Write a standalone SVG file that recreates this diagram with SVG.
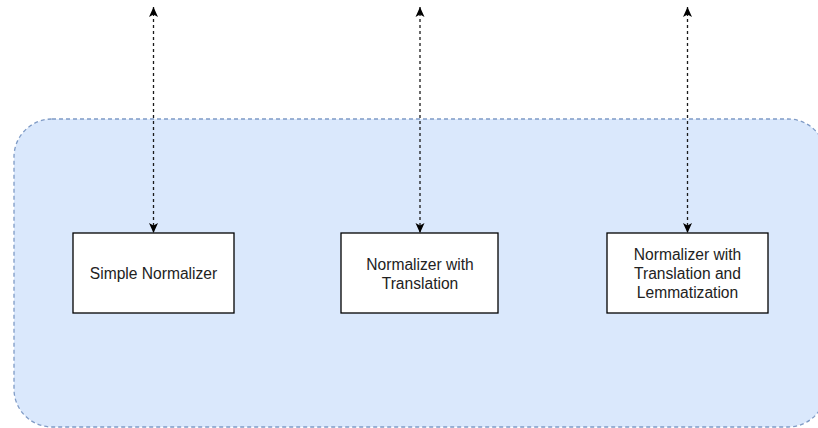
<svg xmlns="http://www.w3.org/2000/svg" width="818" height="428" viewBox="0 0 818 428">
  <defs>
    <style>
      .container { fill: #dae8fc; stroke: #7f9bc6; stroke-width: 1.3; stroke-dasharray: 4 3; }
      .box { fill: #ffffff; stroke: #000000; stroke-width: 1.3; }
      .label { font-family: "Liberation Sans", Arial, Helvetica, sans-serif; font-size: 15.6px; fill: #222222; text-anchor: middle; }
      .link { fill: none; stroke: #1a1a1a; stroke-width: 1.3; stroke-dasharray: 3 3; }
    </style>
    <marker id="arrow" viewBox="0 0 10 10" refX="10" refY="5" markerWidth="10" markerHeight="10" markerUnits="userSpaceOnUse" orient="auto-start-reverse">
      <path d="M0,0.5 L10,5 L0,9.5 L2.5,5 Z" fill="#000000"/>
    </marker>
  </defs>

  <!-- background group container -->
  <g id="container">
    <rect class="container" x="14" y="119" width="812" height="308" rx="38" ry="38"/>
  </g>

  <!-- bidirectional dotted links from the top edge down to each normalizer -->
  <g id="connectors">
    <line class="link" x1="153.5" y1="7" x2="153.5" y2="233" marker-start="url(#arrow)" marker-end="url(#arrow)"/>
    <line class="link" x1="420" y1="7" x2="420" y2="233" marker-start="url(#arrow)" marker-end="url(#arrow)"/>
    <line class="link" x1="687.5" y1="7" x2="687.5" y2="233" marker-start="url(#arrow)" marker-end="url(#arrow)"/>
  </g>

  <g id="simple-normalizer">
    <rect class="box" x="73" y="233" width="161" height="80"/>
    <text class="label" x="153.5" y="278.5">Simple Normalizer</text>
  </g>

  <g id="normalizer-translation">
    <rect class="box" x="341" y="233" width="157" height="80"/>
    <text class="label" x="420" y="269.5">Normalizer with</text>
    <text class="label" x="420" y="288.5">Translation</text>
  </g>

  <g id="normalizer-translation-lemmatization">
    <rect class="box" x="607" y="233" width="161" height="80"/>
    <text class="label" x="687.5" y="260">Normalizer with</text>
    <text class="label" x="687.5" y="279">Translation and</text>
    <text class="label" x="687.5" y="298">Lemmatization</text>
  </g>
</svg>
